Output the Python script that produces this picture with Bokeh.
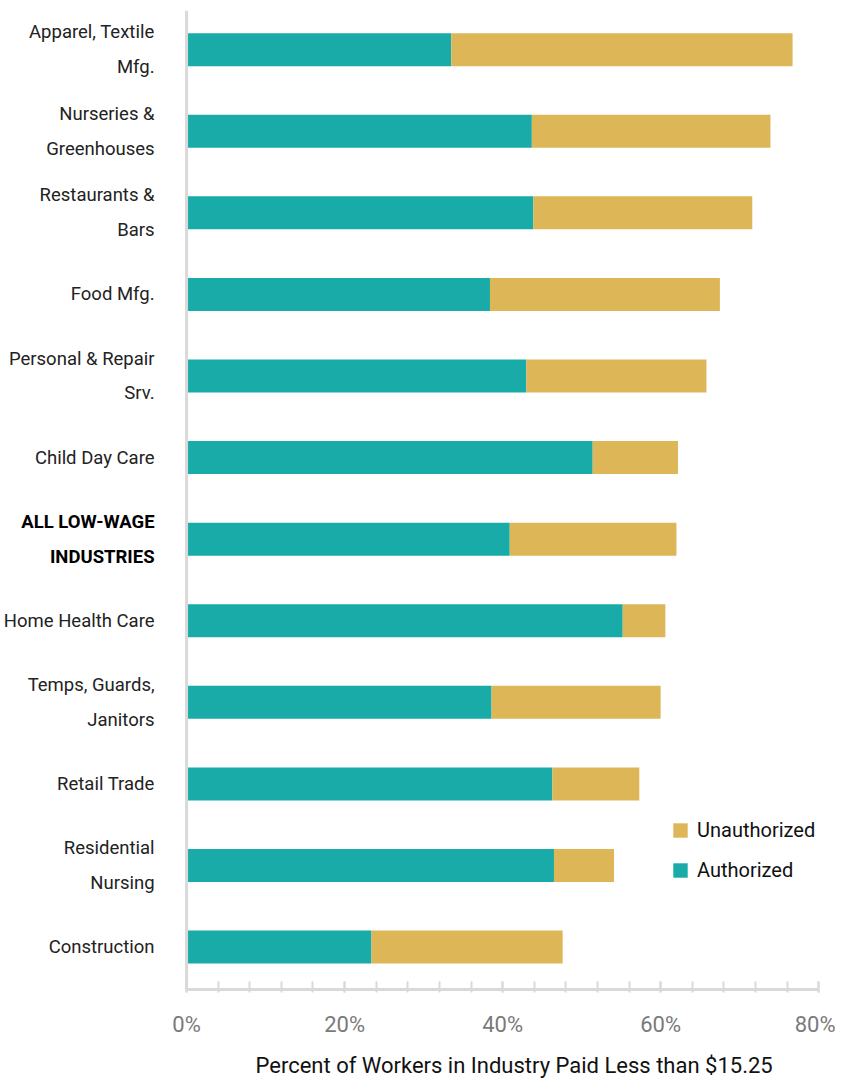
from bokeh.plotting import figure
from bokeh.models import (ColumnDataSource, Legend, LegendItem, SingleIntervalTicker,
                          Range1d, Span, Title)
from bokeh.core.properties import value
from bokeh.embed import file_html
from bokeh.resources import INLINE

categories = [
    "Apparel, Textile\nMfg.",
    "Nurseries &\nGreenhouses",
    "Restaurants &\nBars",
    "Food Mfg.",
    "Personal & Repair\nSrv.",
    "Child Day Care",
    "ALL LOW-WAGE\nINDUSTRIES",
    "Home Health Care",
    "Temps, Guards,\nJanitors",
    "Retail Trade",
    "Residential\nNursing",
    "Construction",
]
authorized = [33.5, 43.7, 43.9, 38.4, 43.0, 51.4, 40.9, 55.2, 38.6, 46.3, 46.5, 23.4]
unauthorized = [43.2, 30.2, 27.7, 29.1, 22.8, 10.8, 21.1, 5.4, 21.4, 11.0, 7.6, 24.2]
highlight = "ALL LOW-WAGE\nINDUSTRIES"

x_ticks = [0, 20, 40, 60, 80]
x_title = "Percent of Workers in Industry Paid Less than $15.25"

TEAL = "#19aba7"
GOLD = "#ddb658"
AXIS = "#d9d9d9"
FONT = "Roboto"

n = len(categories)
ypos = [n - 1 - i for i in range(n)]

src = ColumnDataSource(dict(y=ypos, Authorized=authorized, Unauthorized=unauthorized))

p = figure(width=835, height=1089, output_backend="svg", toolbar_location=None,
           x_range=Range1d(-23.55, 81.5), y_range=Range1d(-0.52, n - 1 + 0.48),
           min_border_left=0, min_border_right=5, min_border_top=10, min_border_bottom=100)
p.outline_line_color = None
p.grid.visible = False
p.yaxis.visible = False

rs = p.hbar_stack(["Authorized", "Unauthorized"], y="y", height=0.405, source=src,
                  color=[TEAL, GOLD], line_color=None)

# vertical baseline at 0
p.add_layout(Span(location=0, dimension="height", line_color=AXIS, line_width=3))

# x axis
xa = p.xaxis[0]
xa.bounds = (0, 80)
xa.ticker = SingleIntervalTicker(interval=20, num_minor_ticks=5)
xa.major_label_overrides = {t: f"{t}%" for t in x_ticks}
xa.axis_line_color = AXIS
xa.axis_line_width = 3
xa.major_tick_line_color = AXIS
xa.minor_tick_line_color = AXIS
xa.major_tick_line_width = 2
xa.minor_tick_line_width = 2
xa.major_tick_in = 8
xa.major_tick_out = 3
xa.minor_tick_in = 8
xa.minor_tick_out = 3
xa.major_label_text_font = FONT
xa.major_label_text_font_size = "22px"
xa.major_label_text_color = "#7a7a7a"
xa.major_label_standoff = 19

# x title below axis
p.add_layout(Title(text=x_title, align="left", offset=255, standoff=22,
                   text_font=FONT, text_font_size="22px", text_font_style="normal",
                   text_color="#111111"), "below")

# category labels
reg = [(c, y) for c, y in zip(categories, ypos) if c != highlight]
hil = [(c, y) for c, y in zip(categories, ypos) if c == highlight]
reg_src = ColumnDataSource(dict(x=[0] * len(reg), y=[y for _, y in reg], t=[c for c, _ in reg]))
hil_src = ColumnDataSource(dict(x=[0] * len(hil), y=[y for _, y in hil], t=[c for c, _ in hil]))
p.text(x="x", y="y", text="t", source=reg_src, x_offset=-32, text_align="right",
       text_baseline="middle", text_font=value(FONT), text_font_size="18.5px",
       text_line_height=1.59, text_color="#222222")
p.text(x="x", y="y", text="t", source=hil_src, x_offset=-32, text_align="right",
       text_baseline="middle", text_font=value(FONT), text_font_size="18.5px",
       text_line_height=1.59, text_font_style="bold", text_color="#000000")

legend = Legend(items=[LegendItem(label="Unauthorized", renderers=[rs[1]]),
                       LegendItem(label="Authorized", renderers=[rs[0]])],
                location=(671, 107), background_fill_alpha=0, border_line_color=None,
                glyph_width=18, glyph_height=18, label_text_font=FONT,
                label_text_font_size="20px", label_text_color="#111111",
                spacing=16, padding=4, label_standoff=8)
p.add_layout(legend)

open("out.html", "w").write(file_html(p, INLINE))
